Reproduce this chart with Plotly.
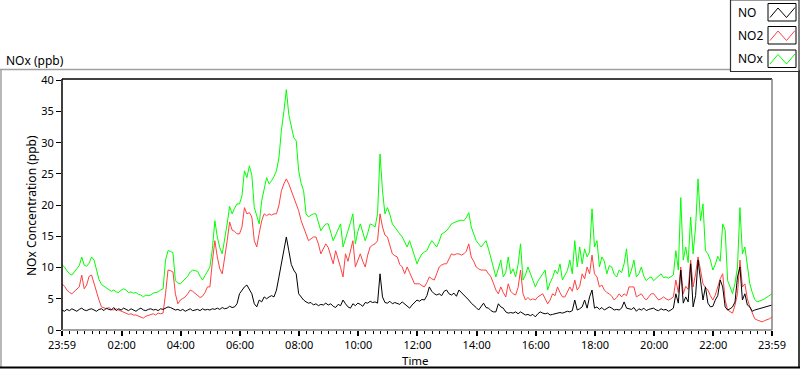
import numpy as np
import plotly.graph_objects as go

# 5-minute samples from 23:59 (day before) to 23:59, values in ppb
nox = [
    10.4, 10.1, 9.5, 9.0, 8.8, 9.4, 9.8, 10.3, 11.7, 10.4, 10.2, 10.7,
    11.7, 11.2, 9.8, 8.1, 7.3, 7.0, 6.7, 6.5, 6.2, 6.4, 6.1, 6.0,
    6.4, 6.6, 6.4, 6.0, 6.1, 5.9, 6.0, 5.7, 5.6, 5.3, 5.6, 5.5,
    5.6, 5.9, 6.0, 6.1, 6.4, 6.6, 11.2, 12.7, 12.6, 12.4, 7.9, 7.5,
    7.4, 7.8, 8.2, 8.6, 9.3, 9.6, 9.5, 9.4, 8.6, 8.0, 8.7, 9.4,
    10.1, 13.0, 17.5, 14.9, 13.2, 12.2, 14.5, 17.0, 19.8, 18.6, 19.5, 20.2,
    20.2, 21.5, 25.5, 24.4, 26.3, 24.8, 19.6, 18.2, 17.0, 20.7, 22.5, 24.4,
    23.4, 23.9, 24.6, 25.5, 27.6, 32.0, 35.0, 38.5, 34.5, 32.4, 30.8, 30.3,
    25.5, 23.5, 22.3, 18.6, 18.1, 18.4, 18.6, 18.6, 17.3, 15.9, 16.5, 17.0,
    17.0, 15.6, 14.3, 15.2, 16.2, 17.0, 13.3, 14.8, 15.9, 17.2, 18.6, 13.8,
    15.8, 17.0, 15.6, 14.3, 15.5, 17.0, 16.8, 16.5, 18.6, 28.2, 22.3, 18.6,
    19.6, 18.5, 17.0, 16.4, 15.9, 15.4, 14.9, 14.2, 13.3, 14.3, 13.0, 11.7,
    10.6, 11.5, 12.2, 12.5, 12.7, 13.6, 14.3, 13.8, 13.3, 14.2, 15.4, 15.6,
    15.9, 16.4, 17.0, 17.2, 17.4, 17.5, 17.6, 17.5, 18.0, 18.8, 16.5, 15.2,
    14.3, 13.8, 13.3, 13.8, 14.3, 13.0, 11.7, 10.0, 8.5, 10.0, 11.2, 8.5,
    9.2, 11.7, 9.0, 9.8, 8.5, 10.5, 13.8, 8.0, 8.8, 10.1, 9.0, 8.0,
    6.9, 7.8, 8.5, 9.0, 9.6, 6.4, 7.6, 8.4, 9.6, 9.0, 10.6, 8.0,
    8.8, 9.5, 11.2, 9.0, 14.3, 10.1, 13.3, 10.6, 13.0, 11.7, 12.5, 19.4,
    13.3, 14.3, 10.1, 11.7, 11.0, 9.0, 10.3, 10.1, 8.9, 8.5, 9.6, 9.2,
    10.6, 13.0, 8.5, 9.6, 11.2, 8.5, 9.0, 10.1, 8.6, 7.9, 8.3, 8.5,
    7.9, 8.3, 8.6, 9.0, 8.4, 8.5, 8.3, 8.5, 8.8, 12.7, 9.6, 21.2,
    11.2, 13.3, 10.8, 18.1, 12.2, 16.5, 24.2, 17.5, 20.2, 12.7, 12.2, 11.2,
    9.6, 10.5, 11.8, 11.0, 17.0, 16.0, 7.9, 6.9, 5.8, 7.5, 10.1, 19.6,
    12.2, 13.3, 10.0, 7.4, 6.0, 4.9, 4.5, 4.6, 4.8, 5.0, 5.3, 5.5,
    5.8,
]

no2 = [
    7.4, 7.0, 6.4, 6.0, 5.8, 6.2, 6.5, 6.9, 8.8, 6.6, 7.2, 8.6,
    8.8, 7.4, 5.8, 4.8, 3.7, 3.5, 3.4, 3.6, 3.3, 3.2, 3.4, 3.2,
    3.0, 2.8, 2.7, 2.5, 2.6, 2.4, 2.4, 2.2, 2.1, 1.9, 2.2, 2.3,
    2.4, 2.6, 2.4, 2.7, 2.6, 2.7, 5.8, 9.6, 9.5, 9.3, 5.8, 4.2,
    4.8, 5.0, 5.3, 5.8, 6.4, 6.2, 5.9, 5.6, 5.2, 5.4, 6.0, 6.9,
    6.9, 11.0, 14.3, 11.7, 9.8, 9.0, 11.5, 14.3, 17.3, 16.0, 15.8, 15.4,
    15.4, 16.5, 19.6, 18.6, 18.8, 18.1, 14.3, 13.3, 15.5, 17.5, 18.6, 18.3,
    18.6, 18.4, 18.6, 18.6, 20.0, 22.3, 23.4, 24.2, 23.4, 22.3, 21.2, 19.9,
    19.1, 17.5, 16.4, 15.4, 14.3, 14.6, 14.9, 14.9, 13.8, 12.2, 12.9, 13.8,
    13.2, 12.0, 10.6, 12.7, 11.5, 10.0, 8.5, 12.2, 11.0, 12.5, 14.3, 10.1,
    11.0, 12.2, 11.0, 10.1, 12.0, 13.3, 13.6, 13.8, 14.3, 18.6, 16.5, 15.2,
    14.9, 13.5, 12.2, 11.9, 11.7, 10.5, 10.1, 9.0, 10.1, 9.2, 8.2, 7.4,
    7.4, 7.4, 7.1, 6.9, 7.6, 8.5, 8.2, 8.0, 9.0, 10.1, 10.4, 10.6,
    10.6, 11.4, 12.2, 12.0, 12.2, 12.2, 12.0, 12.2, 12.6, 13.8, 11.7, 11.0,
    10.1, 9.8, 9.6, 9.6, 9.6, 9.0, 8.5, 7.5, 6.4, 5.8, 6.9, 6.0,
    5.3, 7.4, 6.2, 5.8, 5.6, 6.8, 9.6, 5.8, 4.8, 5.2, 4.8, 5.0,
    4.8, 5.3, 5.6, 5.8, 5.0, 4.2, 4.8, 5.8, 5.5, 6.9, 6.0, 5.3,
    5.3, 6.0, 6.9, 6.2, 8.0, 6.4, 7.0, 9.0, 8.2, 10.1, 9.0, 12.0,
    9.0, 8.5, 6.9, 7.2, 6.4, 6.0, 5.8, 5.4, 4.8, 5.2, 5.8, 5.3,
    5.8, 5.5, 6.9, 6.9, 6.9, 5.3, 5.6, 5.8, 5.2, 4.8, 5.3, 5.8,
    5.8, 5.2, 4.8, 5.0, 5.3, 5.0, 4.8, 5.0, 5.3, 8.0, 6.0, 10.1,
    5.8, 7.0, 6.5, 11.2, 6.9, 9.0, 11.7, 9.6, 7.4, 6.8, 6.4, 5.5,
    4.8, 5.6, 6.9, 8.2, 9.0, 4.8, 3.2, 3.0, 2.7, 4.0, 5.8, 11.2,
    6.9, 7.4, 5.0, 3.7, 2.6, 1.8, 1.6, 1.4, 1.3, 1.5, 1.6, 1.8,
    2.1,
]

no = [
    3.2, 3.0, 3.3, 3.1, 3.4, 3.2, 3.0, 3.3, 3.5, 3.2, 3.1, 3.3,
    3.4, 3.2, 3.0, 3.3, 3.4, 3.1, 3.5, 3.3, 3.2, 3.6, 3.1, 3.4,
    3.2, 3.5, 3.3, 3.1, 3.4, 3.2, 3.0, 3.3, 3.5, 3.2, 3.1, 3.3,
    3.4, 3.2, 3.3, 3.1, 3.4, 3.3, 3.5, 3.7, 3.6, 3.4, 3.2, 3.3,
    3.1, 3.3, 3.0, 3.2, 3.4, 3.1, 3.2, 3.3, 3.1, 3.4, 3.2, 3.3,
    3.2, 3.4, 3.3, 3.5, 3.3, 3.6, 3.4, 3.5, 3.8, 3.6, 3.7, 4.2,
    5.8, 6.3, 6.9, 7.2, 6.6, 5.8, 4.2, 3.7, 4.8, 4.5, 5.3, 5.0,
    5.3, 5.5, 5.3, 6.4, 8.5, 10.6, 13.3, 14.9, 12.7, 10.5, 9.6, 9.0,
    5.8, 5.3, 4.8, 4.5, 4.3, 4.4, 4.0, 4.2, 3.9, 4.1, 4.0, 4.3,
    4.0, 4.2, 3.8, 3.6, 4.1, 3.9, 4.8, 4.2, 3.7, 3.5, 4.2, 3.9,
    4.3, 4.1, 3.8, 4.4, 4.3, 4.6, 4.4, 4.5, 4.3, 9.0, 5.3, 4.4,
    4.3, 4.6, 4.2, 4.4, 4.3, 4.1, 4.5, 4.2, 3.9, 3.5, 4.0, 4.4,
    4.8, 4.6, 4.9, 4.8, 5.5, 6.9, 6.2, 5.8, 5.6, 5.8, 5.5, 6.2,
    6.4, 5.8, 5.6, 5.9, 5.4, 6.4, 6.0, 5.6, 5.3, 4.8, 4.3, 4.0,
    3.6, 3.2, 3.8, 4.3, 3.6, 3.5, 3.1, 2.9, 2.9, 4.2, 3.7, 3.5,
    2.9, 2.7, 2.8, 2.7, 2.9, 2.6, 2.9, 2.7, 2.4, 2.5, 2.3, 2.5,
    2.1, 2.6, 2.9, 2.7, 2.6, 2.7, 2.4, 2.5, 2.6, 2.7, 2.8, 2.7,
    2.9, 3.0, 2.9, 3.1, 4.8, 3.2, 3.4, 3.7, 4.8, 3.5, 5.3, 6.4,
    3.5, 3.7, 3.3, 3.6, 3.2, 3.4, 3.7, 3.5, 3.2, 3.3, 3.2, 3.5,
    4.5, 3.5, 3.4, 3.3, 3.6, 3.0, 3.4, 3.2, 3.5, 3.1, 3.3, 3.4,
    3.5, 3.2, 3.1, 3.4, 3.2, 3.3, 3.0, 3.2, 3.5, 5.8, 4.3, 9.6,
    4.3, 5.3, 4.5, 10.6, 3.7, 5.5, 11.2, 8.0, 4.8, 6.9, 4.3, 3.7,
    3.8, 4.8, 5.5, 8.0, 6.9, 3.7, 3.2, 3.4, 3.7, 4.5, 8.5, 10.1,
    4.8, 5.8, 4.0, 3.7, 3.0, 3.2, 3.3, 3.5, 3.6, 3.7, 3.8, 3.9,
    4.0,
]

tick_labels = ["23:59", "02:00", "04:00", "06:00", "08:00", "10:00", "12:00",
               "14:00", "16:00", "18:00", "20:00", "22:00", "23:59"]
tick_minutes = [0, 121, 241, 361, 481, 601, 721, 841, 961, 1081, 1201, 1321, 1440]
series_names = ["NO", "NO2", "NOx"]
series_colors = ["#000000", "#FF4040", "#00FF00"]

minutes = np.arange(len(nox)) * 5

W, H = 800, 369
L, R, T, B = 62, 772, 79, 330  # plot area pixel edges


def px(x):
    return (x - L) / (R - L)


def py(y):
    return (B - y) / (B - T)


fig = go.Figure()
for vals, name, col in [(nox, "NOx", series_colors[2]),
                        (no2, "NO2", series_colors[1]),
                        (no, "NO", series_colors[0])]:
    fig.add_trace(go.Scatter(x=minutes, y=vals, mode="lines", name=name,
                             line=dict(color=col, width=1), showlegend=False))

FONT = "Noto Sans"
shapes = []
# plot frame: dark top/left, grey bottom/right
shapes.append(dict(type="line", xref="paper", yref="paper", x0=0, x1=1, y0=1, y1=1,
                   line=dict(color="#000000", width=1.5)))
shapes.append(dict(type="line", xref="paper", yref="paper", x0=0, x1=0, y0=0, y1=1,
                   line=dict(color="#000000", width=1.5)))
shapes.append(dict(type="line", xref="paper", yref="paper", x0=1, x1=1, y0=0, y1=1,
                   line=dict(color="#808080", width=1.5)))
shapes.append(dict(type="line", xref="paper", yref="paper", x0=0, x1=1, y0=0, y1=0,
                   line=dict(color="#808080", width=1.5)))
# outer panel frame
shapes.append(dict(type="line", xref="paper", yref="paper", x0=px(0), x1=px(731),
                   y0=py(69.5), y1=py(69.5), line=dict(color="#A0A0A0", width=1.5)))
shapes.append(dict(type="line", xref="paper", yref="paper", x0=px(1), x1=px(1),
                   y0=py(69.5), y1=py(368), line=dict(color="#A0A0A0", width=1.5)))
shapes.append(dict(type="line", xref="paper", yref="paper", x0=px(0), x1=px(800),
                   y0=py(367.5), y1=py(367.5), line=dict(color="#000000", width=2)))
shapes.append(dict(type="line", xref="paper", yref="paper", x0=px(799), x1=px(799),
                   y0=py(70), y1=py(368), line=dict(color="#000000", width=1.5)))
# legend box
shapes.append(dict(type="rect", xref="paper", yref="paper", x0=px(730.5), x1=px(799),
                   y0=py(71.5), y1=py(0), line=dict(color="#303030", width=1.2),
                   fillcolor="white"))

annotations = []
box_tops = [3.5, 26.5, 50]
for i, (name, col) in enumerate(zip(series_names, series_colors)):
    top = box_tops[i]
    bot = top + 17.5
    shapes.append(dict(type="rect", xref="paper", yref="paper", x0=px(768), x1=px(796),
                       y0=py(bot), y1=py(top), line=dict(color="#000000", width=1),
                       fillcolor="white"))
    zx = [770, 778, 786.5, 795]
    zy = [bot - 3.5, top + 4.5, bot - 3.5, top + 4]
    path = "M " + " L ".join(f"{px(a)},{py(b)}" for a, b in zip(zx, zy))
    shapes.append(dict(type="path", xref="paper", yref="paper", path=path,
                       line=dict(color=col, width=1)))
    annotations.append(dict(x=px(736), y=py((top + bot) / 2), xref="paper", yref="paper",
                            text=name, showarrow=False, xanchor="left", yanchor="middle",
                            font=dict(family=FONT, size=12, color="#000000")))

annotations.append(dict(x=px(4), y=py(60), xref="paper", yref="paper", text="NOx (ppb)",
                        showarrow=False, xanchor="left", yanchor="middle",
                        font=dict(family=FONT, size=12, color="#000000")))
annotations.append(dict(x=px(31), y=py(206), xref="paper", yref="paper",
                        text="NOx Concentration (ppb)", textangle=-90, showarrow=False,
                        xanchor="center", yanchor="middle",
                        font=dict(family=FONT, size=12, color="#000000")))
annotations.append(dict(x=px(415), y=py(360.5), xref="paper", yref="paper", text="Time",
                        showarrow=False, xanchor="center", yanchor="middle",
                        font=dict(family=FONT, size=11.5, color="#000000")))

fig.update_layout(
    width=W, height=H,
    margin=dict(l=L, r=W - R, t=T, b=H - B),
    paper_bgcolor="white", plot_bgcolor="white",
    shapes=shapes, annotations=annotations,
    showlegend=False,
    xaxis=dict(range=[0, 1440], tickmode="array", tickvals=tick_minutes,
               ticktext=tick_labels, ticks="outside", ticklen=5, tickwidth=1.5,
               tickcolor="#000000", showgrid=False, zeroline=False, showline=False,
               tickfont=dict(family=FONT, size=11, color="#000000"),
               minor=dict(dtick=15, tick0=1, ticks="outside", ticklen=3,
                          tickcolor="#000000", tickwidth=1, showgrid=False)),
    yaxis=dict(range=[0, 40.2], tickmode="array", tickvals=list(range(0, 41, 5)),
               ticks="outside", ticklen=5, tickcolor="#000000", showgrid=False,
               zeroline=False, showline=False,
               tickfont=dict(family=FONT, size=11, color="#000000")),
)

fig.write_html(
    "out.html",
    config={"displayModeBar": False},
    post_script="document.body.style.margin='0';document.body.style.overflow='hidden';",
)
